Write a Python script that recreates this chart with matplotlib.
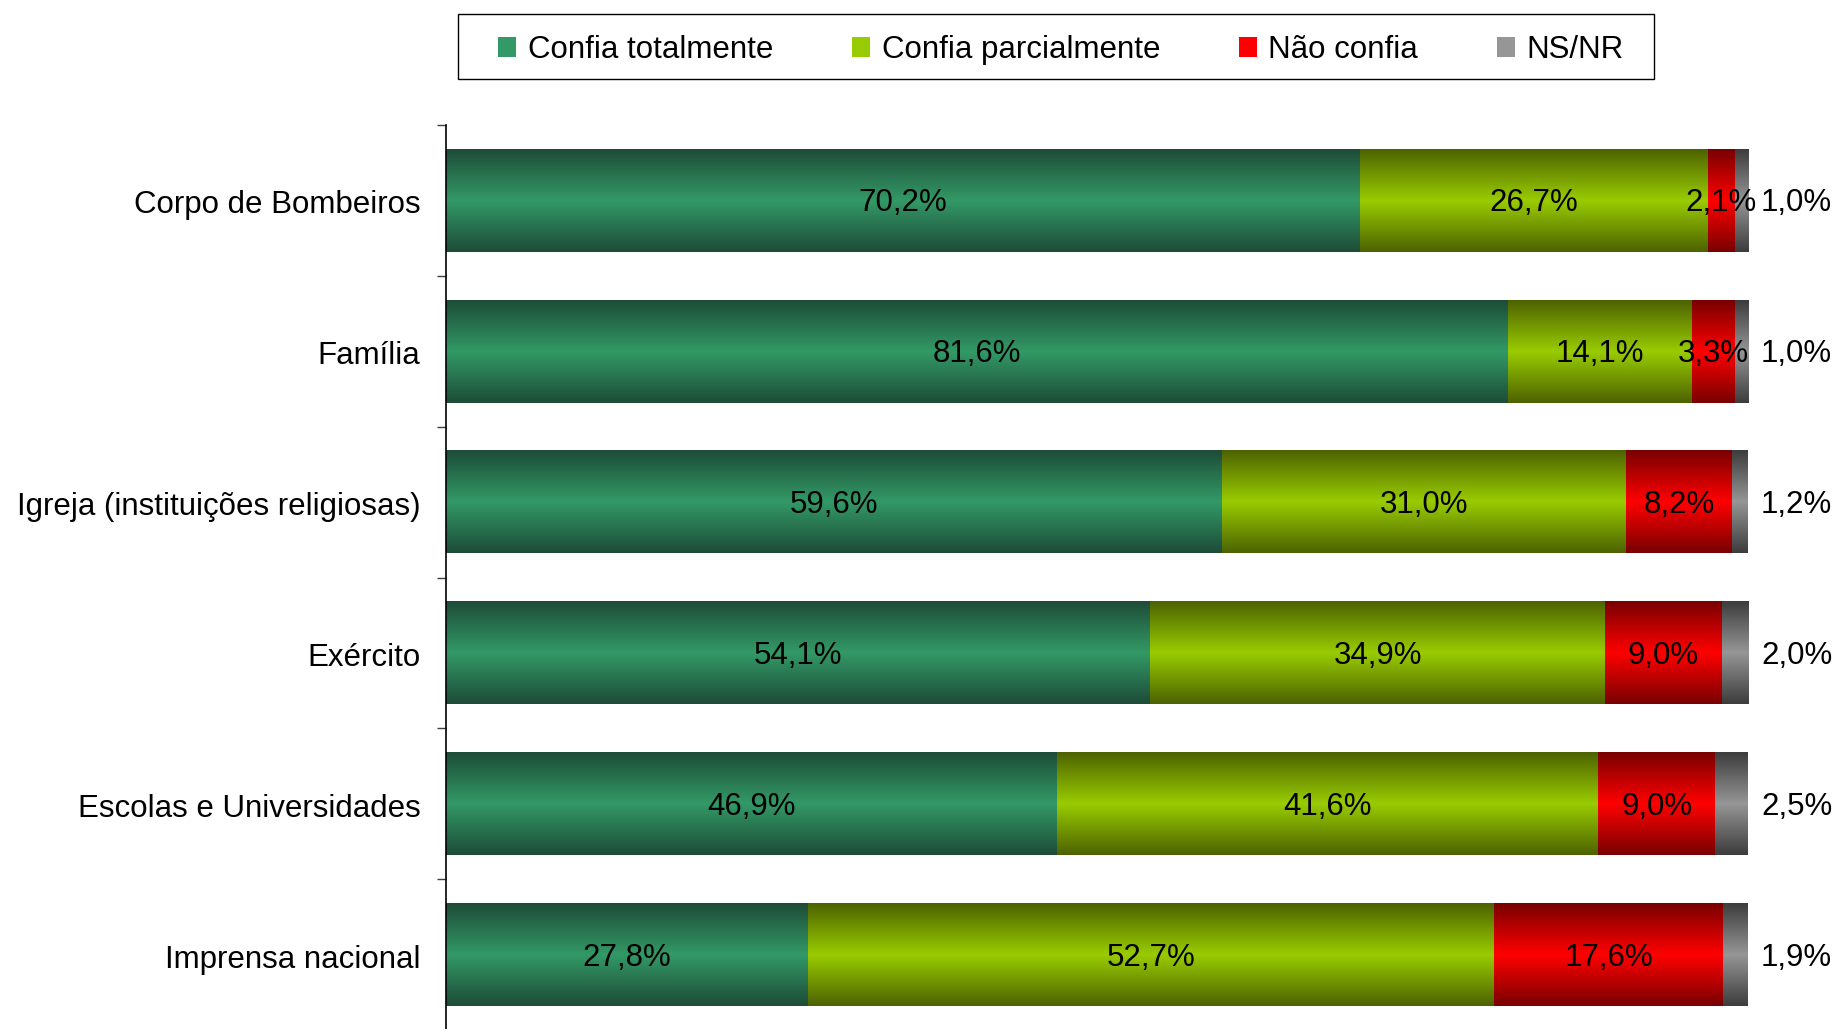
import matplotlib
matplotlib.use('Agg')
import matplotlib.pyplot as plt
import matplotlib.transforms as mtransforms
from matplotlib.colors import LinearSegmentedColormap
from matplotlib.patches import Patch, Rectangle
import numpy as np

plt.rcParams['font.family'] = ['Liberation Sans', 'DejaVu Sans']
plt.rcParams['font.size'] = 22.5

categories = ['Corpo de Bombeiros', 'Família', 'Igreja (instituições religiosas)',
              'Exército', 'Escolas e Universidades', 'Imprensa nacional']
series = ['Confia totalmente', 'Confia parcialmente', 'Não confia', 'NS/NR']
confia_total = [70.2, 81.6, 59.6, 54.1, 46.9, 27.8]
confia_parcial = [26.7, 14.1, 31.0, 34.9, 41.6, 52.7]
nao_confia = [2.1, 3.3, 8.2, 9.0, 9.0, 17.6]
ns_nr = [1.0, 1.0, 1.2, 2.0, 2.5, 1.9]

# (edge colour, middle colour) for the vertical gradient
GRAD = [('#1d4c38', '#339966'),
        ('#4d6200', '#99cc00'),
        ('#780000', '#ff0000'),
        ('#3c3c3c', '#969696')]
FS = 22.5


def fmt(v):
    return f'{v:.1f}'.replace('.', ',') + '%'


fig = plt.figure(figsize=(18.38, 10.29), dpi=100)
ax = fig.add_axes([446 / 1838, -1 / 1029, 1302 / 1838, 905 / 1029])

values = [confia_total, confia_parcial, nao_confia, ns_nr]
y = np.arange(len(categories))
left = np.zeros(len(categories))
s = np.linspace(0, 1, 256)
prof = (1 - np.abs(2 * s - 1)).reshape(-1, 1)

for k, vals in enumerate(values):
    bars = ax.barh(y, vals, left=left, height=0.68, color='none', edgecolor='none')
    cmap = LinearSegmentedColormap.from_list(f'g{k}', list(GRAD[k]))
    for p in bars.patches:
        x0, y0 = p.get_x(), p.get_y()
        w, h = p.get_width(), p.get_height()
        ax.imshow(prof, extent=[x0, x0 + w, y0 + h, y0], cmap=cmap, vmin=0, vmax=1,
                  aspect='auto', interpolation='bilinear', zorder=2)
    for i, v in enumerate(vals):
        if k < 3:
            # value centred inside the segment
            ax.annotate(fmt(v), xy=(left[i] + v / 2, i), xytext=(0, -3),
                        textcoords='offset pixels', ha='center', va='center',
                        fontsize=FS, color='black', zorder=5)
        else:
            # NS/NR value outside, right of the bar
            ax.annotate(fmt(v), xy=(left[i] + v, i), xytext=(13, -3),
                        textcoords='offset pixels', ha='left', va='center',
                        fontsize=FS, color='black', annotation_clip=False)
    left += np.array(vals)

ax.set_xlim(0, 100)
ax.set_ylim(len(categories) - 0.5, -0.5)
ax.set_xticks([])
ax.set_yticks(y)
ax.set_yticklabels(categories)
ax.set_yticks(np.arange(-0.5, len(categories) + 0.5, 1), minor=True)
ax.tick_params(axis='y', which='major', length=0, pad=18.5, labelsize=FS)
ax.tick_params(axis='y', which='minor', length=6.8, width=1, color='#404040')
shift = mtransforms.ScaledTranslation(0, -1.5 / 100, fig.dpi_scale_trans)
for lab in ax.get_yticklabels():
    lab.set_transform(lab.get_transform() + shift)
for side in ['top', 'right', 'bottom']:
    ax.spines[side].set_visible(False)
ax.spines['left'].set_linewidth(1.2)
ax.spines['left'].set_zorder(6)

# legend box drawn by hand, entries placed inside it
fig.patches.append(Rectangle((458 / 1838, 1 - 79 / 1029), 1196 / 1838, 65 / 1029,
                             transform=fig.transFigure, facecolor='white',
                             edgecolor='black', linewidth=1.0, zorder=0))
handles = [Patch(facecolor=m, edgecolor='none') for _, m in GRAD]
leg = fig.legend(handles, series, loc='center', bbox_to_anchor=(1061 / 1838, 1 - 50 / 1029),
                 ncol=4, fontsize=FS, frameon=False, handlelength=0.57, handleheight=0.57,
                 handletextpad=0.38, columnspacing=2.52, borderpad=0, borderaxespad=0)

fig.savefig('out.png', dpi=100)
